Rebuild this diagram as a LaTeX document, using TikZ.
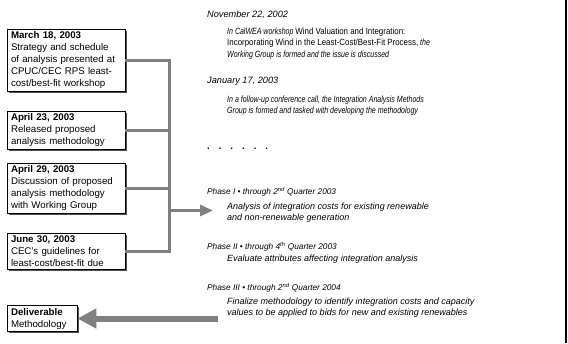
\documentclass[tikz,border=0pt]{standalone}
\usepackage{fontspec}
\setmainfont{Liberation Sans}
\newfontfamily\slimfont{Liberation Sans}[UprightFeatures={FakeStretch=0.88}, ItalicFeatures={FakeStretch=0.78}]
\usetikzlibrary{arrows.meta, positioning, shadows}
\definecolor{linkgray}{RGB}{128,128,128}
\definecolor{shadowgray}{RGB}{80,80,80}

\begin{document}
\begin{tikzpicture}[x=1pt, y=-1pt,
    event/.style={rectangle, draw=black, line width=0.9pt, fill=white, text width=110pt, inner xsep=4pt, inner ysep=2.5pt, align=left, font=\fontsize{9.7}{12}\selectfont, drop shadow={shadow xshift=1.8pt, shadow yshift=-1.8pt, fill=shadowgray, opacity=1}},
    link/.style={linkgray, line width=3pt},
    stamp/.style={anchor=base west, inner sep=0pt, font=\fontsize{9.2}{11.7}\selectfont\itshape},
    phase/.style={stamp, font=\fontsize{8.3}{11.7}\selectfont\itshape},
    detail/.style={anchor=north west, inner sep=0pt, align=left, font=\fontsize{9}{11.7}\selectfont\itshape},
    slimdetail/.style={detail, font=\fontsize{9}{11.7}\slimfont\itshape}
]
    \useasboundingbox (0,0) rectangle (568,343);

    % Milestone boxes
    \node[event] (mar18) at (66,60)
        {\textbf{March 18, 2003}\\Strategy and schedule\\of analysis presented at\\CPUC/CEC RPS least-\\cost/best-fit workshop};
    \node[event] (apr23) at (66,130)
        {\textbf{April 23, 2003}\\Released proposed\\analysis methodology};
    \node[event] (apr29) at (66,188)
        {\textbf{April 29, 2003}\\Discussion of proposed\\analysis methodology\\with Working Group};
    \node[event] (jun30) at (66,251.5)
        {\textbf{June 30, 2003}\\CEC's guidelines for\\least-cost/best-fit due};
    \node[event, text width=62pt] (deliv) at (42,318.5)
        {\textbf{Deliverable}\\Methodology};

    % Timeline texts
    \node[stamp] (nov) at (207,17) {November 22, 2002};
    \node[slimdetail] (novtext) at (227,27.4)
        {In CalWEA workshop \textup{Wind Valuation and Integration:}\\\textup{Incorporating Wind in the Least-Cost/Best-Fit Process,} the\\Working Group is formed and the issue is discussed};
    \node[stamp] (jan) at (207,83) {January 17, 2003};
    \node[slimdetail] (jantext) at (227,95.4)
        {In a follow-up conference call, the Integration Analysis Methods\\Group is formed and tasked with developing the methodology};
    \node[anchor=base west, inner sep=0pt, font=\fontsize{9.5}{11}\selectfont\bfseries] (pause) at (207,149)
        {.\hspace{9pt}.\hspace{9pt}.\hspace{9pt}.\hspace{9pt}.\hspace{9pt}.};
    \node[phase] (ph1) at (207,194) {Phase I • through 2\textsuperscript{nd} Quarter 2003};
    \node[detail] (ph1text) at (227,202.4)
        {Analysis of integration costs for existing renewable\\and non-renewable generation};
    \node[phase] (ph2) at (207,249) {Phase II • through 4\textsuperscript{th} Quarter 2003};
    \node[detail] (ph2text) at (227,254.4)
        {Evaluate attributes affecting integration analysis};
    \node[phase] (ph3) at (207,290) {Phase III • through 2\textsuperscript{nd} Quarter 2004};
    \node[detail] (ph3text) at (227,297.4)
        {Finalize methodology to identify integration costs and capacity\\values to be applied to bids for new and existing renewables};

    % Connectors
    \coordinate (trunk) at (169,0);
    \coordinate (tip) at (213,210.5);
    \coordinate (back) at (218,318.5);
    \draw[link] (mar18.east) -| (trunk |- jun30.east) -- (jun30.east);
    \draw[link] (apr23.east) -- (apr23.east -| trunk);
    \draw[link] (apr29.east) -- (apr29.east -| trunk);
    \draw[link, -{Triangle[length=13pt, width=11pt]}] (tip -| trunk) -- (tip);
    \draw[link, line width=6pt, -{Triangle[length=19pt, width=19pt]}] (back) -- (deliv.east);

    % Right frame edge
    \draw[line width=2.5pt] (566,0) -- (566,343);
\end{tikzpicture}
\end{document}
